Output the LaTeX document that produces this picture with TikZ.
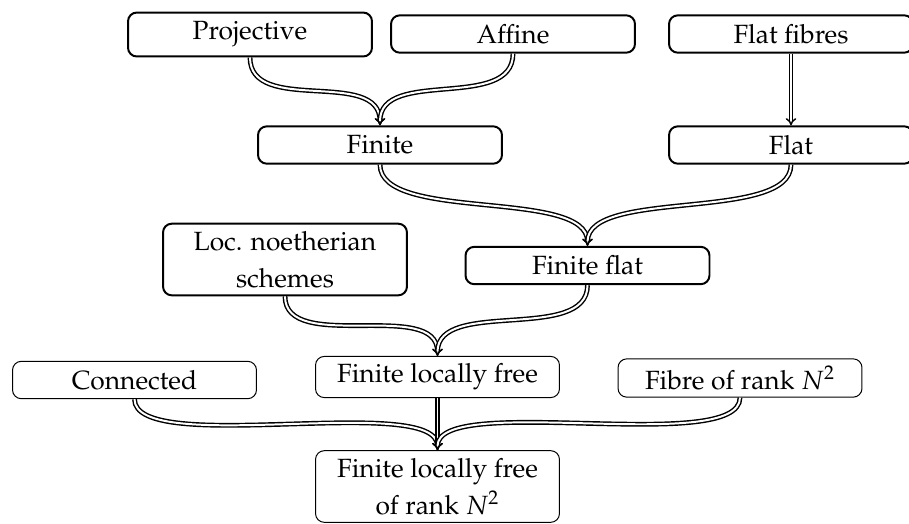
\documentclass[tikz,border=0pt]{standalone}
\usepackage[T1]{fontenc}
\usepackage{mathpazo}
\usetikzlibrary{arrows.meta}

\tikzset{
  blk/.style={draw, rounded corners=4pt, minimum width=111pt, minimum height=17pt,
    align=center, line width=0.45pt, font=\fontsize{12}{17}\selectfont},
  heavy/.style={blk, line width=0.9pt},
  flow/.style={double, double distance=0.9pt, line width=0.65pt, -{Implies}},
}

\begin{document}
\begin{tikzpicture}[x=0.455pt, y=-0.455pt]
  \useasboundingbox (0,0) rectangle (909,523);

  % top row
  \node[heavy, minimum height=20pt] (proj) at (250,34.5) {Projective};
  \node[heavy] (aff) at (513,34) {Affine};
  \node[heavy] (flatfib) at (791,34) {Flat fibres};

  \node[heavy] (fin) at (380,145) {Finite};
  \node[heavy] (flat) at (791,145) {Flat};

  \node[heavy] (locn) at (285,259.5) {Loc. noetherian\\schemes};
  \node[heavy] (finflat) at (587.5,265.5) {Finite flat};

  % bottom part
  \node[blk] (conn) at (134.5,380) {Connected};
  \node[blk] (flf) at (437.5,377) {Finite locally free};
  \node[blk] (fibre) at (740,378) {Fibre of rank $N^2$};
  \node[blk] (flfr) at (437.5,486.5) {Finite locally free\\of rank $N^2$};

  \foreach \a/\b in {proj/fin, aff/fin, flatfib/flat, fin/finflat, flat/finflat,
                     locn/flf, finflat/flf, conn/flfr, flf/flfr, fibre/flfr}{
    \draw[flow] (\a.south) .. controls +(0,58) and +(0,-58) .. (\b.north);
  }
\end{tikzpicture}
\end{document}
